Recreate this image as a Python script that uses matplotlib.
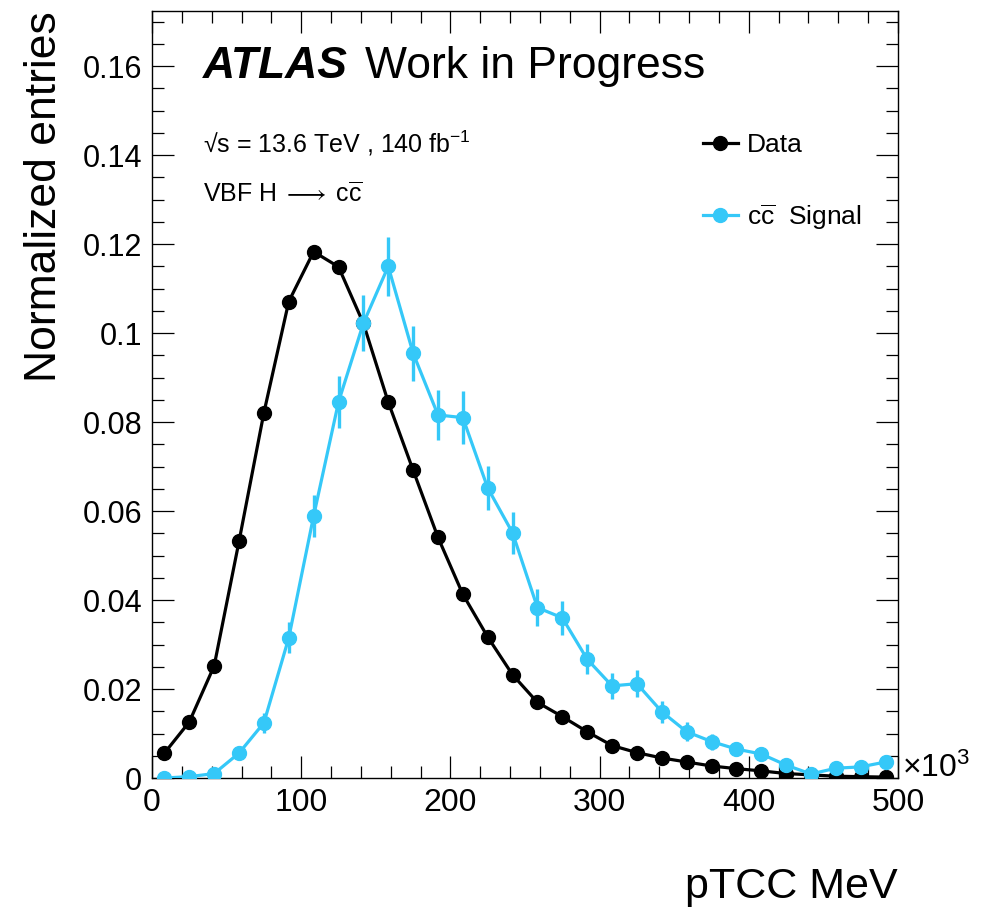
import numpy as np
import matplotlib
matplotlib.use("Agg")
import matplotlib.pyplot as plt
from matplotlib.lines import Line2D
from matplotlib.ticker import MultipleLocator

plt.rcParams['font.family'] = ['Liberation Sans', 'DejaVu Sans']
plt.rcParams['mathtext.fontset'] = 'custom'
plt.rcParams['mathtext.rm'] = 'Liberation Sans'
plt.rcParams['mathtext.it'] = 'Liberation Sans:italic'

# pTCC bins in units of 10^3 MeV
bin_edges = np.linspace(0, 500, 31)
bin_centres = 0.5 * (bin_edges[:-1] + bin_edges[1:])

data_vals = [0.0056, 0.0126, 0.0252, 0.0532, 0.0821, 0.1071, 0.1183, 0.1149, 0.1022, 0.0845,
             0.0692, 0.0541, 0.0413, 0.0317, 0.0232, 0.0170, 0.0138, 0.0104, 0.0073, 0.0057,
             0.0045, 0.0036, 0.0027, 0.0021, 0.0016, 0.0010, 0.0007, 0.0004, 0.0003, 0.0002]

sig_vals = [0.0000, 0.0003, 0.0010, 0.0056, 0.0124, 0.0315, 0.0589, 0.0845, 0.1022, 0.1150,
            0.0955, 0.0816, 0.0810, 0.0652, 0.0551, 0.0383, 0.0360, 0.0267, 0.0207, 0.0212,
            0.0149, 0.0104, 0.0082, 0.0065, 0.0054, 0.0029, 0.0009, 0.0022, 0.0025, 0.0036]

sig_errs = [0.0002, 0.0004, 0.0007, 0.0014, 0.0022, 0.0035, 0.0048, 0.0058, 0.0063, 0.0067,
            0.0062, 0.0057, 0.0059, 0.0050, 0.0047, 0.0041, 0.0038, 0.0034, 0.0030, 0.0030,
            0.0025, 0.0021, 0.0018, 0.0016, 0.0015, 0.0011, 0.0006, 0.0010, 0.0010, 0.0012]

cyan = '#35c8f8'

fig = plt.figure(figsize=(9.97, 9.08), dpi=100)
ax = fig.add_axes([152/997, 1 - 778/908, 746/997, 767/908])

ax.plot(bin_centres, data_vals, color='black', lw=2.3, marker='o', ms=10, zorder=3)
ax.errorbar(bin_centres, sig_vals, yerr=sig_errs, color=cyan, lw=2.3, elinewidth=2.4,
            marker='o', ms=10, capsize=0, zorder=4)

ax.set_xlim(0, 500)
ax.set_ylim(0, 0.1724)
ax.xaxis.set_major_locator(MultipleLocator(100))
ax.xaxis.set_minor_locator(MultipleLocator(20))
ax.yaxis.set_minor_locator(MultipleLocator(0.005))
ax.set_yticks([0, 0.02, 0.04, 0.06, 0.08, 0.1, 0.12, 0.14, 0.16])
ax.set_yticklabels(['0', '0.02', '0.04', '0.06', '0.08', '0.1', '0.12', '0.14', '0.16'])

ax.tick_params(which='both', direction='in', top=True, right=True, width=0.9)
ax.tick_params(which='major', length=16)
ax.tick_params(which='minor', length=8.5)
ax.tick_params(axis='y', labelsize=22, pad=7)
ax.tick_params(axis='x', labelsize=23, pad=7)
for s in ax.spines.values():
    s.set_linewidth(1.0)

ax.set_xlabel('pTCC MeV', fontsize=31, ha='right', va='baseline')
ax.xaxis.set_label_coords(1.0, (778 - 898) / 767)
ax.set_ylabel('Normalized entries', fontsize=32, loc='top')
ax.yaxis.set_label_coords(-0.117, 1.0)

ax.text(1.006, (778 - 768) / 767, r'$\times10^{3}$', transform=ax.transAxes,
        fontsize=23, ha='left', va='center')

fig.text(203/997, 1 - 78/908, 'ATLAS', fontsize=32, fontweight='bold', fontstyle='italic',
         va='baseline', ha='left')
fig.text(365/997, 1 - 78/908, 'Work in Progress', fontsize=32, va='baseline', ha='left')
fig.text(203/997, 1 - 153/908, r'√s = 13.6 TeV , 140 fb$^{-1}$', fontsize=18,
         va='baseline', ha='left')
fig.text(203/997, 1 - 202/908, r'VBF H$\;\longrightarrow\;$c$\mathrm{\overline{c}}$', fontsize=18,
         va='baseline', ha='left')

handles = [Line2D([], [], color='black', lw=2.3, marker='o', ms=10),
           Line2D([], [], color=cyan, lw=2.3, marker='o', ms=10)]
labels = ['Data', r'c$\mathrm{\overline{c}}$  Signal']
ax.legend(handles, labels, loc='upper left', bbox_to_anchor=(690/997, 1 - 120/908),
          bbox_transform=fig.transFigure, frameon=False, fontsize=19,
          handlelength=1.3, handletextpad=0.35, labelspacing=1.7, borderpad=0)

fig.savefig('out.png', dpi=100)
